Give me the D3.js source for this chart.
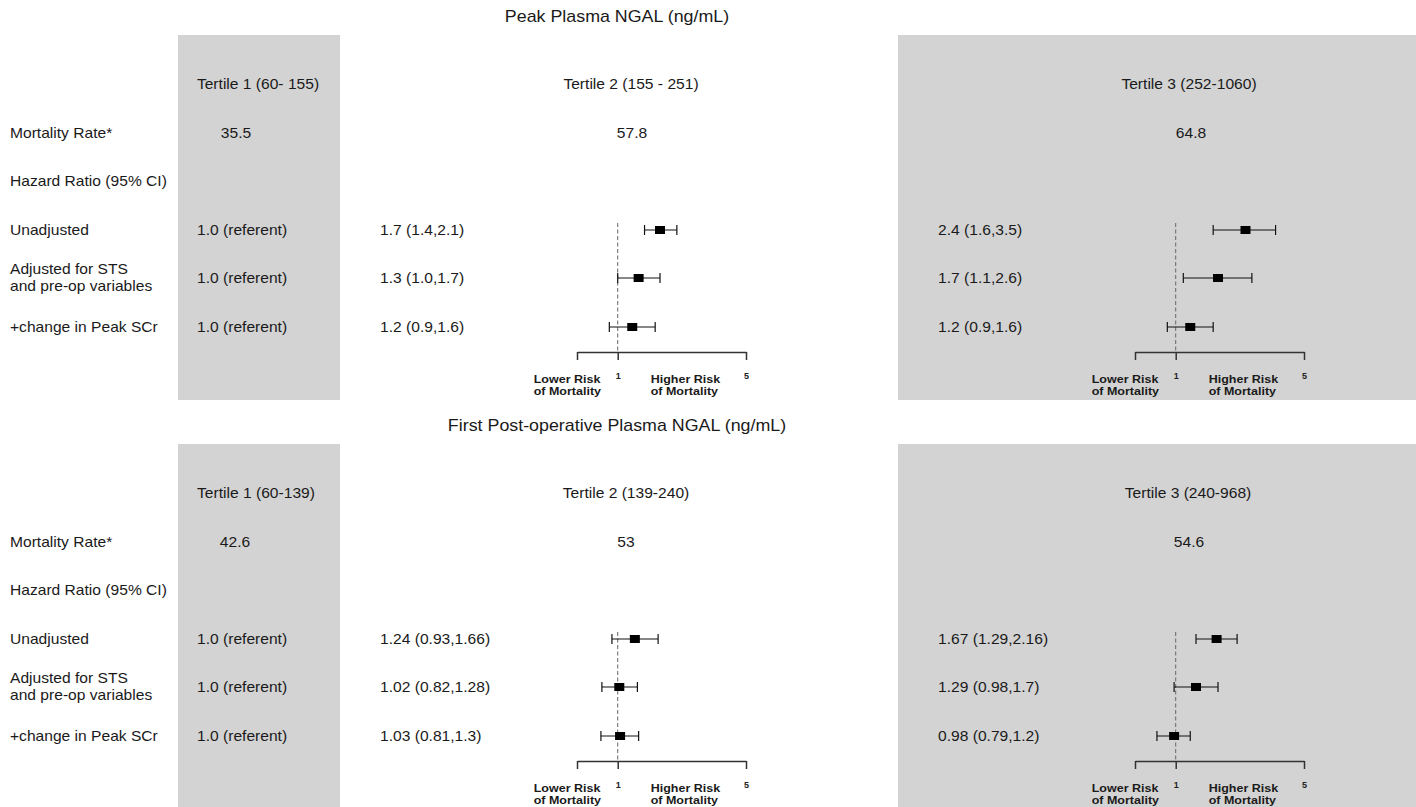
<!DOCTYPE html>
<html>
<head>
<meta charset="utf-8">
<script src="https://cdn.jsdelivr.net/npm/d3@7"></script>
<style>
    body { margin: 0; background: #fff; }
    text { font-family: "Liberation Sans", Arial, sans-serif; fill: #1a1a1a; }
</style>
</head>
<body>
<svg id="chart" width="1416" height="807"></svg>
<script>
// ---- data ----
const panelTitles = ["Peak Plasma NGAL (ng/mL)", "First Post-operative Plasma NGAL (ng/mL)"];
const tertileLabels = [
    ["Tertile 1 (60- 155)", "Tertile 2 (155 - 251)", "Tertile 3 (252-1060)"],
    ["Tertile 1 (60-139)", "Tertile 2 (139-240)", "Tertile 3 (240-968)"]
];
const mortalityRates = [["35.5", "57.8", "64.8"], ["42.6", "53", "54.6"]];
const rowLabels = [["Unadjusted"], ["Adjusted for STS", "and pre-op variables"], ["+change in Peak SCr"]];
const referentLabel = "1.0 (referent)";
// hazard ratios [estimate, lower, upper] for tertile 2 and tertile 3, per model row
const peakT2 = [[1.7, 1.4, 2.1], [1.3, 1.0, 1.7], [1.2, 0.9, 1.6]];
const peakT3 = [[2.4, 1.6, 3.5], [1.7, 1.1, 2.6], [1.2, 0.9, 1.6]];
const firstT2 = [[1.24, 0.93, 1.66], [1.02, 0.82, 1.28], [1.03, 0.81, 1.3]];
const firstT3 = [[1.67, 1.29, 2.16], [1.29, 0.98, 1.7], [0.98, 0.79, 1.2]];
const peakT2Text = ["1.7 (1.4,2.1)", "1.3 (1.0,1.7)", "1.2 (0.9,1.6)"];
const peakT3Text = ["2.4 (1.6,3.5)", "1.7 (1.1,2.6)", "1.2 (0.9,1.6)"];
const firstT2Text = ["1.24 (0.93,1.66)", "1.02 (0.82,1.28)", "1.03 (0.81,1.3)"];
const firstT3Text = ["1.67 (1.29,2.16)", "1.29 (0.98,1.7)", "0.98 (0.79,1.2)"];
const axisTicks = [0.6, 1, 5];

const hrData = [[peakT2, peakT3], [firstT2, firstT3]];
const hrText = [[peakT2Text, peakT3Text], [firstT2Text, firstT3Text]];

// ---- layout ----
const W = 1416, H = 807;
const SX = 1.115; // picture is a bit stretched sideways
const FS = 14;
const panelOffset = [0, 409];
const headerX = [[258, 631, 1189], [256, 626, 1188]];
const rateX = [[236, 632, 1191], [235, 626, 1189]];
const hrTextX = [380, 938];
const axisRange = [[577, 746], [1135, 1304]];
const rowY = [230, 278, 327];

let svg = d3.select('#chart');

//文本工具: 横向拉伸
let addText = function (g, x, y, str, size, anchor, weight) {
    let t = g.append('g')
        .attr('transform', `translate(${x},${y}) scale(${SX},1)`)
        .append('text')
        .attr('dominant-baseline', 'central')
        .style('font-size', size + 'px')
        .style('text-anchor', anchor || 'start')
        .text(str);
    if (weight) t.style('font-weight', weight);
    return t;
};

panelOffset.forEach((off, p) => {
    let g = svg.append('g').attr('transform', `translate(0,${off})`);

    // gray columns
    g.append('rect').attr('x', 178).attr('y', 35).attr('width', 162)
        .attr('height', Math.min(365, H - off - 35)).attr('fill', '#d3d3d3');
    g.append('rect').attr('x', 898).attr('y', 35).attr('width', W - 898)
        .attr('height', Math.min(365, H - off - 35)).attr('fill', '#d3d3d3');

    addText(g, 617, 17, panelTitles[p], 16, 'middle');

    tertileLabels[p].forEach((s, i) => addText(g, headerX[p][i], 84, s, FS, 'middle'));

    addText(g, 10, 133, "Mortality Rate*", FS);
    mortalityRates[p].forEach((s, i) => addText(g, rateX[p][i], 133, s, FS, 'middle'));
    addText(g, 10, 181, "Hazard Ratio (95% CI)", FS);

    rowLabels.forEach((lines, r) => {
        lines.forEach((s, k) => {
            let y = rowY[r] + (lines.length > 1 ? (k - 0.5) * 17 : 0);
            addText(g, 10, y, s, FS);
        });
        addText(g, 197, rowY[r], referentLabel, FS);
    });

    // forest columns for tertile 2 and 3
    [0, 1].forEach(c => {
        let x = d3.scaleLog().domain([0.6, 5]).range(axisRange[c]);
        let col = g.append('g');

        hrText[p][c].forEach((s, r) => addText(col, hrTextX[c], rowY[r], s, FS));

        // reference line at 1
        col.append('line')
            .attr('x1', x(1)).attr('x2', x(1))
            .attr('y1', 223).attr('y2', 352)
            .style('stroke', '#666')
            .style('stroke-dasharray', '4,2.5');

        let rows = col.selectAll('g.hr')
            .data(hrData[p][c])
            .enter()
            .append('g')
            .attr('class', 'hr')
            .attr('transform', (d, i) => `translate(0,${rowY[i]})`);
        rows.append('line')
            .attr('x1', d => x(d[1])).attr('x2', d => x(d[2]))
            .style('stroke', '#111').style('stroke-width', 1.2);
        rows.append('line')
            .attr('x1', d => x(d[1])).attr('x2', d => x(d[1]))
            .attr('y1', -5).attr('y2', 5)
            .style('stroke', '#111').style('stroke-width', 1.2);
        rows.append('line')
            .attr('x1', d => x(d[2])).attr('x2', d => x(d[2]))
            .attr('y1', -5).attr('y2', 5)
            .style('stroke', '#111').style('stroke-width', 1.2);
        rows.append('rect')
            .attr('x', d => x(d[0]) - 5).attr('y', -4)
            .attr('width', 10).attr('height', 8)
            .style('fill', '#000');

        // axis
        let ax = col.append('g')
            .attr('transform', 'translate(0,352)')
            .call(d3.axisBottom(x).tickValues(axisTicks).tickSize(8).tickSizeOuter(0)
                .tickFormat(d => d === 0.6 ? '' : d3.format('d')(d)));
        ax.select('.domain').style('stroke', '#333').style('stroke-width', 1.5);
        ax.selectAll('.tick line').style('stroke', '#333').style('stroke-width', 1.5);
        ax.selectAll('.tick text')
            .attr('y', 21)
            .style('font-family', '"Liberation Sans", Arial, sans-serif')
            .style('font-size', '9px')
            .style('font-weight', 'bold')
            .style('fill', '#222');

        let x1 = x(1);
        addText(col, x1 - 84, 379, "Lower Risk", 11.2, 'start', 'bold');
        addText(col, x1 - 84, 391, "of Mortality", 11.2, 'start', 'bold');
        addText(col, x1 + 33, 379, "Higher Risk", 11.2, 'start', 'bold');
        addText(col, x1 + 33, 391, "of Mortality", 11.2, 'start', 'bold');
    });
});
</script>
</body>
</html>
